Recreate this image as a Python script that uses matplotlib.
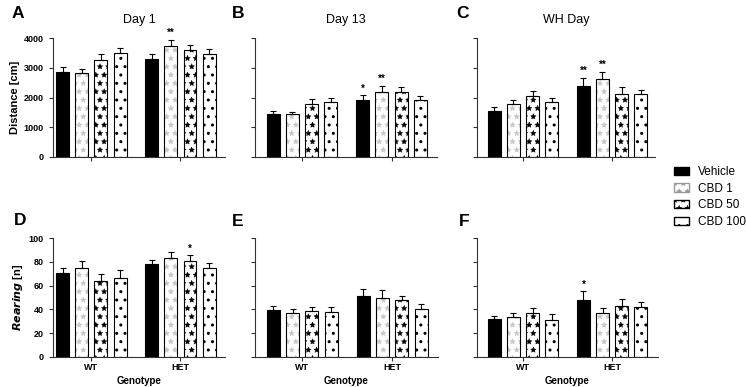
import numpy as np
import matplotlib
matplotlib.use("Agg")
import matplotlib.pyplot as plt
from matplotlib.patches import Patch

plt.rcParams['font.family'] = ['Liberation Sans', 'DejaVu Sans']
plt.rcParams['hatch.linewidth'] = 0.3

# data
groups = ['WT', 'HET']
treatments = ['Vehicle', 'CBD 1', 'CBD 50', 'CBD 100']

day1_mean = [[2850, 2820, 3250, 3510], [3305, 3730, 3585, 3475]]
day1_err = [[165, 150, 220, 140], [170, 215, 165, 145]]
day1_sig = [['', '', '', ''], ['', '**', '', '']]

day13_mean = [[1445, 1434, 1793, 1860], [1905, 2196, 2185, 1927]]
day13_err = [[112, 90, 157, 112], [168, 202, 157, 113]]
day13_sig = [['', '', '', ''], ['*', '**', '', '']]

wh_mean = [[1557, 1793, 2050, 1849], [2387, 2622, 2129, 2106]]
wh_err = [[113, 123, 157, 123], [268, 246, 224, 157]]
wh_sig = [['', '', '', ''], ['**', '**', '', '']]

rear1_mean = [[70.4, 74.4, 63.9, 66.8], [78.3, 83.1, 80.8, 75.2]]
rear1_err = [[4.2, 6.2, 5.7, 6.4], [3.4, 5.4, 4.8, 4.0]]
rear1_sig = [['', '', '', ''], ['', '', '*', '']]

rear13_mean = [[39.8, 37.3, 38.7, 38.1], [51.1, 50.0, 48.1, 40.6]]
rear13_err = [[3.3, 3.0, 3.6, 3.6], [6.1, 6.1, 3.3, 3.9]]
rear13_sig = [['', '', '', ''], ['', '', '', '']]

rearwh_mean = [[32.0, 33.7, 37.0, 31.5], [47.5, 36.7, 43.1, 41.7]]
rearwh_err = [[2.5, 3.6, 3.9, 4.4], [7.7, 4.5, 5.5, 4.2]]
rearwh_sig = [['', '', '', ''], ['*', '', '', '']]

dist_ticks = [0, 1000, 2000, 3000, 4000]
rear_ticks = [0, 20, 40, 60, 80, 100]

W, H = 746, 387
fig = plt.figure(figsize=(W / 100, H / 100), dpi=100)


def add_ax(x0, y0, x1, y1):
    return fig.add_axes([x0 / W, 1 - y1 / H, (x1 - x0) / W, (y1 - y0) / H])


offsets = [-0.3225, -0.1075, 0.1075, 0.3225]
bw = 0.145
# face / hatch / hatch colour / hatch line width per treatment
styles = [
    ('black', None, 'black', 0.3),
    ('white', '**', '#c8c8c8', 0.3),
    ('white', '**', 'black', 0.3),
    ('white', '..', 'black', 1.0),
]


def draw_panel(ax, means, errs, sigs, ticks, xlim):
    means = np.array(means)
    errs = np.array(errs)
    ymax = ticks[-1]
    gx = np.arange(len(groups))
    for t in range(len(treatments)):
        xs = gx + offsets[t]
        ys = means[:, t]
        face, hatch, hcol, hlw = styles[t]
        if hatch:
            with plt.rc_context({'hatch.linewidth': hlw}):
                ax.bar(xs, ys, bw, color=face, edgecolor=hcol, hatch=hatch, linewidth=0, zorder=2)
            ax.bar(xs, ys, bw, fill=False, edgecolor='black', linewidth=0.8, zorder=3)
        else:
            ax.bar(xs, ys, bw, color=face, edgecolor='black', linewidth=0.8, zorder=3)
        ax.errorbar(xs, ys, yerr=[np.zeros_like(ys), errs[:, t]], fmt='none',
                    ecolor='black', elinewidth=0.8, capsize=2.5, capthick=0.8, zorder=4)
        for g in range(len(groups)):
            s = sigs[g][t]
            if s:
                ax.text(xs[g], ys[g] + errs[g, t] + ymax * 0.015, s, ha='center',
                        va='bottom', fontsize=7, fontweight='bold')
    ax.set_xlim(*xlim)
    ax.set_ylim(0, ymax)
    ax.set_xticks(gx)
    ax.set_yticks(ticks)
    for side in ['top', 'right']:
        ax.spines[side].set_visible(False)
    for side in ['left', 'bottom']:
        ax.spines[side].set_linewidth(0.8)
        ax.spines[side].set_color('#333333')
    ax.tick_params(length=3, width=0.8, colors='#333333', labelcolor='black', labelsize=6.5)


# top row
axA = add_ax(53, 38, 225, 157)
axB = add_ax(255, 38, 437, 157)
axC = add_ax(477, 38, 655, 157)
# bottom row
axD = add_ax(53, 238, 225, 357)
axE = add_ax(255, 238, 438, 357)
axF = add_ax(477, 238, 658, 357)

draw_panel(axA, day1_mean, day1_err, day1_sig, dist_ticks, (-0.43, 1.5))
draw_panel(axB, day13_mean, day13_err, day13_sig, dist_ticks, (-0.525, 1.508))
draw_panel(axC, wh_mean, wh_err, wh_sig, dist_ticks, (-0.517, 1.483))
draw_panel(axD, rear1_mean, rear1_err, rear1_sig, rear_ticks, (-0.43, 1.5))
draw_panel(axE, rear13_mean, rear13_err, rear13_sig, rear_ticks, (-0.525, 1.51))
draw_panel(axF, rearwh_mean, rearwh_err, rearwh_sig, rear_ticks, (-0.517, 1.515))

for ax in [axA, axB, axC]:
    ax.set_xticklabels([])
for ax in [axB, axC, axE, axF]:
    ax.set_yticklabels([])
for ax in [axA, axD]:
    for lab in ax.get_yticklabels():
        lab.set_fontweight('bold')
for ax in [axD, axE, axF]:
    ax.set_xticklabels(groups, fontsize=6.5, fontweight='bold')
    ax.tick_params(axis='x', pad=1)
    ax.set_xlabel('Genotype', fontsize=7, fontweight='bold', labelpad=3)

axA.set_ylabel('Distance [cm]', fontsize=8, fontweight='bold', labelpad=3)
axD.set_ylabel(r'$\bfit{Rearing}$ [n]', fontsize=8, fontweight='bold', labelpad=3)

axA.set_title('Day 1', fontsize=9, pad=10.5)
axB.set_title('Day 13', fontsize=9, pad=10.5)
axC.set_title('WH Day', fontsize=9, pad=10.5)

for lbl, x, y in [('A', 12, 18), ('B', 232, 18), ('C', 456, 18),
                  ('D', 14, 225), ('E', 232, 226), ('F', 459, 226)]:
    fig.text(x / W, 1 - y / H, lbl, fontsize=12.5, fontweight='bold', va='baseline')

with plt.rc_context({'hatch.linewidth': 0.6}):
    handles = [
        Patch(facecolor='black', edgecolor='black'),
        Patch(facecolor='white', edgecolor='#999999', hatch='**'),
        Patch(facecolor='white', edgecolor='black', hatch='**'),
        Patch(facecolor='white', edgecolor='black', hatch='..'),
    ]
fig.legend(handles, treatments, loc='upper left', bbox_to_anchor=(674 / W, 1 - 166 / H),
           frameon=False, fontsize=8.5, handlelength=1.3, handleheight=0.7,
           handletextpad=0.7, labelspacing=0.4, borderpad=0, borderaxespad=0)

fig.savefig('out.png', dpi=100)
